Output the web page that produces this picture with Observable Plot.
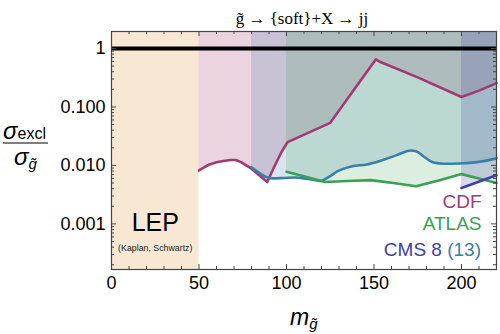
<!DOCTYPE html>
<html>
<head>
<meta charset="utf-8">
<script src="https://cdn.jsdelivr.net/npm/d3@7"></script>
<script src="https://cdn.jsdelivr.net/npm/@observablehq/plot@0.6"></script>
<style>
  html, body { margin: 0; padding: 0; background: #fff; }
  #chart { width: 500px; height: 334px; }
</style>
</head>
<body>
<div id="chart"></div>
<script>
// ---- data ----
const xDomain = [0, 220];
const yDomain = [1.66e-4, 1.95];
const lepRange = [0, 50];

const cdfMass  = [50, 53, 56, 60, 64, 68, 71, 74, 77, 80, 89, 93, 97, 100.6, 125, 151, 154, 175, 200, 210, 220];
const cdfSigma = [0.0082, 0.0093, 0.0104, 0.0113, 0.0119, 0.0124, 0.0124, 0.0114, 0.0100, 0.0088, 0.0052, 0.0095, 0.0166, 0.0250, 0.0535, 0.65, 0.58, 0.32, 0.148, 0.19, 0.255];

const cms13Mass  = [80, 84, 88, 92, 99, 105, 110, 115, 119, 124, 129, 137, 146, 155, 163, 168, 171, 174, 178, 184, 190, 199, 210, 220];
const cms13Sigma = [0.0093, 0.0076, 0.0064, 0.0060, 0.0061, 0.0062, 0.0060, 0.0057, 0.0054, 0.0063, 0.0079, 0.0096, 0.0104, 0.0124, 0.0150, 0.0172, 0.0180, 0.0175, 0.0145, 0.0112, 0.0107, 0.0108, 0.0115, 0.0132];

const atlasMass  = [100, 111, 122, 135, 148, 161, 174, 187, 200, 210, 220];
const atlasSigma = [0.0078, 0.0064, 0.0052, 0.0054, 0.0056, 0.0050, 0.0044, 0.0055, 0.0071, 0.0060, 0.0050];

const cms8Mass  = [200, 220];
const cms8Sigma = [0.0041, 0.0068];

const xTicks = [0, 50, 100, 150, 200];
const yTicks = [1, 0.1, 0.01, 0.001];
const yTickLabels = ["1", "0.100", "0.010", "0.001"];
const unitLine = [1];

const legendNames = ["CDF", "ATLAS", "CMS 8", "(13)"];

// ---- layout & style ----
const W = 500, H = 334;
const mL = 111, mR = 4, mT = 31, mB = 65;
const plotW = W - mL - mR, plotH = H - mT - mB;
const C = {
  lep: "#f8e8d3",
  cdf: "#a23a72",
  cms13: "#3b7ea8",
  atlas: "#3aa052",
  cms8: "#4040aa",
  frame: "#444"
};
const sans = "'Liberation Sans', Arial, Helvetica, sans-serif";
const serif = "'Liberation Serif', 'Times New Roman', serif";

const rows = (xs, ys) => xs.map((x, i) => ({x, y: ys[i]}));
const cdf = rows(cdfMass, cdfSigma);
const cms13 = rows(cms13Mass, cms13Sigma);
const atlas = rows(atlasMass, atlasSigma);
const cms8 = rows(cms8Mass, cms8Sigma);
const yTop = yDomain[1];

// minor tick positions
const xMinor = d3.range(xDomain[0], xDomain[1] + 1, 10).filter(v => !xTicks.includes(v));
const yMinor = [];
for (let e = -4; e <= 0; e++) for (let k = 2; k <= 9; k++) {
  const v = k * Math.pow(10, e);
  if (v > yDomain[0] && v < yDomain[1]) yMinor.push(v);
}

const majLen = 5, minLen = 3;
const legendSize = 19;

const chart = Plot.plot({
  width: W, height: H,
  marginLeft: mL, marginRight: mR, marginTop: mT, marginBottom: mB,
  style: {fontFamily: sans, background: "white", overflow: "visible"},
  x: {domain: xDomain},
  y: {type: "log", domain: yDomain},
  marks: [
    Plot.rect([lepRange], {x1: d => d[0], x2: d => d[1], y1: () => yDomain[0], y2: () => yTop, fill: C.lep}),
    Plot.areaY(cdf, {x: "x", y1: "y", y2: () => yTop, fill: C.cdf, fillOpacity: 0.22}),
    Plot.areaY(cms13, {x: "x", y1: "y", y2: () => yTop, fill: C.cms13, fillOpacity: 0.2, curve: "monotone-x"}),
    Plot.areaY(atlas, {x: "x", y1: "y", y2: () => yTop, fill: C.atlas, fillOpacity: 0.18}),
    Plot.areaY(cms8, {x: "x", y1: "y", y2: () => yTop, fill: C.cms8, fillOpacity: 0.2}),
    Plot.line(cdf, {x: "x", y: "y", stroke: C.cdf, strokeWidth: 2.6, strokeLinejoin: "round"}),
    Plot.line(cms13, {x: "x", y: "y", stroke: C.cms13, strokeWidth: 2.6, curve: "monotone-x"}),
    Plot.line(atlas, {x: "x", y: "y", stroke: C.atlas, strokeWidth: 2.6}),
    Plot.line(cms8, {x: "x", y: "y", stroke: C.cms8, strokeWidth: 2.6}),
    Plot.ruleY(unitLine, {stroke: "black", strokeWidth: 4}),
    Plot.frame({stroke: C.frame, strokeWidth: 1.2}),
    // inward ticks: bottom / top
    Plot.tickX(xTicks, {x: d => d, insetTop: plotH - majLen, stroke: C.frame}),
    Plot.tickX(xMinor, {x: d => d, insetTop: plotH - minLen, stroke: C.frame}),
    Plot.tickX(xTicks, {x: d => d, insetBottom: plotH - majLen, stroke: C.frame}),
    Plot.tickX(xMinor, {x: d => d, insetBottom: plotH - minLen, stroke: C.frame}),
    // inward ticks: left / right
    Plot.tickY(yTicks, {y: d => d, insetRight: plotW - majLen, stroke: C.frame}),
    Plot.tickY(yMinor, {y: d => d, insetRight: plotW - minLen, stroke: C.frame}),
    Plot.tickY(yTicks, {y: d => d, insetLeft: plotW - majLen, stroke: C.frame}),
    Plot.tickY(yMinor, {y: d => d, insetLeft: plotW - minLen, stroke: C.frame}),
    Plot.axisX({ticks: xTicks, tickSize: 0, tickPadding: 7, fontSize: 18, label: null, tickFormat: d => String(d)}),
    Plot.axisY({ticks: yTicks, tickSize: 0, tickPadding: 6, fontSize: 18, label: null,
      tickFormat: d => yTickLabels[yTicks.indexOf(d)]}),
    // LEP annotation
    Plot.text(["LEP"], {x: () => 25, frameAnchor: "bottom", dy: -39, text: d => d, fontSize: 25, fill: "black"}),
    Plot.text(["(Kaplan, Schwartz)"], {x: () => 25, frameAnchor: "bottom", dy: -19, text: d => d, fontSize: 8.8, fill: "#222"}),
    // legend (first two lines)
    Plot.text([legendNames[0]], {frameAnchor: "bottom-right", dx: -15, dy: -62, text: d => d, fontSize: legendSize, fill: C.cdf, textAnchor: "end"}),
    Plot.text([legendNames[1]], {frameAnchor: "bottom-right", dx: -15, dy: -40, text: d => d, fontSize: legendSize, fill: C.atlas, textAnchor: "end"})
  ]
});

document.getElementById("chart").appendChild(chart);

const svg = d3.select(chart);

// legend third line: two colours in one line
const lg = svg.append("text")
  .attr("x", W - mR - 15).attr("y", H - mB - 19).attr("dy", "0.32em")
  .attr("text-anchor", "end")
  .attr("font-family", sans).attr("font-size", legendSize);
lg.append("tspan").attr("fill", C.cms8).text(legendNames[2] + " ");
lg.append("tspan").attr("fill", C.cms13).text(legendNames[3]);

// ---- title & axis labels ----
svg.append("text")
  .attr("x", 302).attr("y", 24)
  .attr("text-anchor", "middle")
  .attr("font-family", serif).attr("font-size", 17).attr("fill", "black")
  .text("g\u0303 \u2192 {soft}+X \u2192 jj");

// y label: sigma_excl / sigma_gluino
const yl = svg.append("g").attr("font-family", sans).attr("fill", "black").attr("text-anchor", "start");
const num = yl.append("text").attr("x", 3).attr("y", 139).attr("font-size", 24).attr("text-anchor", "start");
num.append("tspan").attr("font-style", "italic").text("\u03C3");
num.append("tspan").attr("font-size", 16).text("excl");
yl.append("line").attr("x1", 3).attr("x2", 48).attr("y1", 143).attr("y2", 143)
  .attr("stroke", "black").attr("stroke-width", 1.2);
const den = yl.append("text").attr("x", 14).attr("y", 165).attr("font-size", 24).attr("text-anchor", "start");
den.append("tspan").attr("font-style", "italic").text("\u03C3");
den.append("tspan").attr("font-size", 15).attr("font-style", "italic").attr("dy", 4).text("g\u0303");

// x label: m_gluino
const xl = svg.append("text").attr("x", 290).attr("y", 325).attr("text-anchor", "start")
  .attr("font-family", sans).attr("font-size", 23).attr("fill", "black");
xl.append("tspan").attr("font-style", "italic").text("m");
xl.append("tspan").attr("font-style", "italic").attr("font-size", 15).attr("dy", 4).text("g\u0303");
</script>
</body>
</html>
